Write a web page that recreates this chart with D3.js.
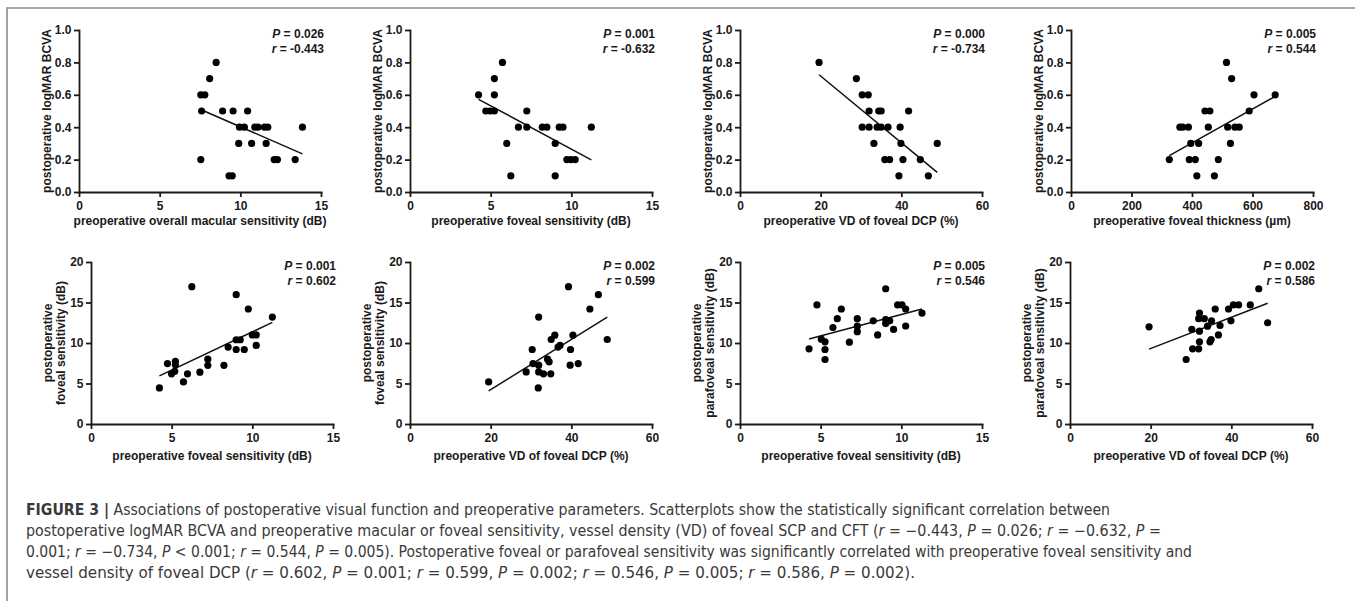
<!DOCTYPE html>
<html>
<head>
<meta charset="utf-8">
<script src="https://cdn.jsdelivr.net/npm/d3@7"></script>
<style>
  body { margin: 0; background: #fff; }
  svg { display: block; }
  .axis path, .axis line { stroke: #1a1a1a; stroke-width: 1.8px; }
  .axis text { font-family: "Liberation Sans", Arial, sans-serif; font-weight: bold; font-size: 12px; fill: #1a1a1a; }
  .lbl { font-family: "Liberation Sans", Arial, sans-serif; font-weight: bold; font-size: 12px; fill: #1a1a1a; }
  .cap { font-family: "Liberation Sans Narrow", "DejaVu Sans Condensed", "Liberation Sans", sans-serif; font-size: 15.5px; fill: #3a3a3a; }
</style>
</head>
<body>
<svg id="fig" width="1355" height="601"></svg>
<script>
// values, one pair of arrays per scatterplot
const p1X = [7.55, 7.8, 7.6, 7.55, 8.1, 8.5, 8.9, 9.55, 9.3, 9.5, 9.95, 10.25, 9.9, 10.45, 10.7, 10.9, 11.1, 11.5, 11.7, 11.6, 12.1, 12.3, 13.4, 13.85];
const p1Y = [0.6, 0.6, 0.5, 0.2, 0.7, 0.8, 0.5, 0.5, 0.1, 0.1, 0.4, 0.4, 0.3, 0.5, 0.3, 0.4, 0.4, 0.4, 0.4, 0.3, 0.2, 0.2, 0.2, 0.4];
const p2X = [4.25, 4.7, 4.97, 5.23, 5.23, 5.23, 5.73, 6.0, 6.25, 6.72, 7.24, 7.24, 8.2, 8.48, 9.0, 9.0, 9.25, 9.48, 9.72, 9.97, 10.24, 11.24];
const p2Y = [0.6, 0.5, 0.5, 0.5, 0.6, 0.7, 0.8, 0.3, 0.1, 0.4, 0.5, 0.4, 0.4, 0.4, 0.3, 0.1, 0.4, 0.4, 0.2, 0.2, 0.2, 0.4];
const p3X = [19.6, 28.85, 30.3, 31.8, 30.3, 32.0, 32.0, 33.2, 34.4, 35.0, 34.0, 35.0, 36.7, 35.9, 37.1, 39.7, 39.9, 39.4, 40.4, 41.8, 44.7, 46.7, 48.9];
const p3Y = [0.8, 0.7, 0.6, 0.6, 0.4, 0.4, 0.5, 0.3, 0.5, 0.5, 0.4, 0.4, 0.4, 0.2, 0.2, 0.4, 0.3, 0.1, 0.2, 0.5, 0.2, 0.1, 0.3];
const p4X = [325, 360, 369, 388, 396, 391, 411, 416, 422, 443, 459, 454, 474, 487, 514, 518, 527, 531, 542, 556, 589, 605, 675];
const p4Y = [0.2, 0.4, 0.4, 0.4, 0.3, 0.2, 0.2, 0.1, 0.3, 0.5, 0.5, 0.4, 0.1, 0.2, 0.8, 0.4, 0.3, 0.7, 0.4, 0.4, 0.5, 0.6, 0.6];
const p5X = [4.24, 4.74, 4.99, 5.23, 5.23, 5.19, 5.73, 5.98, 6.25, 6.75, 7.24, 7.24, 8.24, 8.5, 9.0, 9.0, 9.0, 9.25, 9.5, 9.75, 10.0, 10.24, 10.24, 11.24];
const p5Y = [4.45, 7.46, 6.2, 7.75, 7.3, 6.5, 5.2, 6.2, 16.95, 6.4, 8.0, 7.25, 7.25, 9.5, 15.96, 10.4, 9.2, 10.4, 9.2, 14.2, 11.0, 11.0, 9.7, 13.2];
const p6X = [19.5, 28.8, 30.3, 30.5, 31.9, 31.9, 31.9, 31.8, 33.1, 34.1, 34.5, 34.9, 35.0, 35.9, 36.7, 37.2, 39.3, 39.7, 39.8, 40.4, 41.7, 44.6, 46.7, 48.9];
const p6Y = [5.2, 6.43, 9.2, 7.46, 7.26, 13.2, 6.43, 4.45, 6.2, 8.0, 7.67, 6.2, 10.43, 10.97, 9.5, 9.7, 16.95, 7.26, 9.2, 10.97, 7.46, 14.2, 15.96, 10.43];
const p7X = [4.28, 4.77, 5.04, 5.27, 5.27, 5.27, 5.76, 6.03, 6.28, 6.78, 7.27, 7.27, 7.27, 8.26, 8.53, 9.03, 9.03, 9.03, 9.28, 9.52, 9.77, 10.04, 10.27, 10.27, 11.28];
const p7Y = [9.28, 14.7, 10.47, 10.14, 9.2, 7.96, 11.9, 13.0, 14.2, 10.1, 13.0, 12.08, 11.4, 12.74, 11.0, 16.7, 12.9, 12.4, 12.74, 11.67, 14.7, 14.7, 14.2, 12.1, 13.7];
const p8X = [19.6, 28.8, 30.2, 30.4, 31.9, 32.1, 31.9, 32.1, 32.1, 33.3, 34.1, 35.1, 34.7, 35.0, 36.0, 36.8, 37.2, 39.3, 39.9, 40.5, 41.8, 44.7, 46.8, 49.0];
const p8Y = [12.0, 7.96, 11.7, 9.28, 9.28, 13.7, 13.0, 11.46, 10.14, 13.0, 12.08, 12.74, 10.14, 10.43, 14.2, 11.0, 12.16, 14.2, 12.74, 14.7, 14.7, 14.7, 16.7, 12.5];

// regression line end points as drawn
const fitX = [[7.75, 13.85], [4.25, 11.24], [19.6, 48.9], [325, 675], [4.24, 11.24], [19.5, 48.9], [4.28, 11.28], [19.6, 49.0]];
const fitY = [[0.5, 0.235], [0.572, 0.198], [0.724, 0.121], [0.225, 0.59], [5.94, 12.54], [4.08, 13.2], [10.5, 14.2], [9.24, 14.9]];

const pValues = ["0.026", "0.001", "0.000", "0.005", "0.001", "0.002", "0.005", "0.002"];
const rValues = ["-0.443", "-0.632", "-0.734", "0.544", "0.602", "0.599", "0.546", "0.586"];

const xMaxes = [15, 15, 60, 800, 15, 60, 15, 60];
const xSteps = [5, 5, 20, 200, 5, 20, 5, 20];
const yMaxes = [1, 1, 1, 1, 20, 20, 20, 20];
const ySteps = [0.2, 0.2, 0.2, 0.2, 5, 5, 5, 5];

const xLabels = [
    "preoperative overall macular sensitivity (dB)",
    "preoperative foveal sensitivity (dB)",
    "preoperative VD of foveal DCP (%)",
    "preoperative foveal thickness (\u00b5m)",
    "preoperative foveal sensitivity (dB)",
    "preoperative VD of foveal DCP (%)",
    "preoperative foveal sensitivity (dB)",
    "preoperative VD of foveal DCP (%)"
];
const yLabels = [
    ["postoperative logMAR BCVA"],
    ["postoperative logMAR BCVA"],
    ["postoperative logMAR BCVA"],
    ["postoperative logMAR BCVA"],
    ["postoperative", "foveal sensitivity (dB)"],
    ["postoperative", "foveal sensitivity (dB)"],
    ["postoperative", "parafoveal sensitivity (dB)"],
    ["postoperative", "parafoveal sensitivity (dB)"]
];

const captionLines = [
    "FIGURE 3 | Associations of postoperative visual function and preoperative parameters. Scatterplots show the statistically significant correlation between",
    "postoperative logMAR BCVA and preoperative macular or foveal sensitivity, vessel density (VD) of foveal SCP and CFT (r = \u22120.443, P = 0.026; r = \u22120.632, P =",
    "0.001; r = \u22120.734, P < 0.001; r = 0.544, P = 0.005). Postoperative foveal or parafoveal sensitivity was significantly correlated with preoperative foveal sensitivity and",
    "vessel density of foveal DCP (r = 0.602, P = 0.001; r = 0.599, P = 0.002; r = 0.546, P = 0.005; r = 0.586, P = 0.002)."
];

// layout
const allX = [p1X, p2X, p3X, p4X, p5X, p6X, p7X, p8X];
const allY = [p1Y, p2Y, p3Y, p4Y, p5Y, p6Y, p7Y, p8Y];
const panelLeft = [79, 410, 740, 1071, 91, 410, 740, 1070];
const panelWidth = 242;
const rowTop = [30, 262];
const rowBottom = [192, 424];
const xLabelGap = [32.5, 35.5];
const captionEnds = [1110, 1161, 1192, 915];

const svg = d3.select("#fig");

// frame of the figure box
svg.append("path")
    .attr("d", "M7,601V8H1355")
    .attr("fill", "none")
    .attr("stroke", "#8a8a8a")
    .attr("stroke-width", 1.6);

allX.forEach((xs, i) => {
    const row = i < 4 ? 0 : 1;
    const left = panelLeft[i];
    const top = rowTop[row], bottom = rowBottom[row];

    const x = d3.scaleLinear().domain([0, xMaxes[i]]).range([left, left + panelWidth]);
    const y = d3.scaleLinear().domain([0, yMaxes[i]]).range([bottom, top]);

    const xTicks = d3.range(0, xMaxes[i] + xSteps[i] / 2, xSteps[i]);
    const yTicks = d3.range(0, yMaxes[i] + ySteps[i] / 2, ySteps[i]);

    const g = svg.append("g");

    g.append("g")
        .attr("class", "axis")
        .attr("transform", `translate(0,${bottom})`)
        .call(d3.axisBottom(x).tickValues(xTicks).tickSize(5).tickSizeOuter(0).tickPadding(4).tickFormat(d3.format("d")));

    g.append("g")
        .attr("class", "axis")
        .attr("transform", `translate(${left},0)`)
        .call(d3.axisLeft(y).tickValues(yTicks).tickSize(5).tickSizeOuter(0).tickPadding(2.5)
            .tickFormat(yMaxes[i] === 1 ? d3.format(".1f") : d3.format("d")));

    g.selectAll(".axis path").attr("stroke-linecap", "square");

    // regression line
    g.append("line")
        .attr("x1", x(fitX[i][0])).attr("y1", y(fitY[i][0]))
        .attr("x2", x(fitX[i][1])).attr("y2", y(fitY[i][1]))
        .attr("stroke", "#111")
        .attr("stroke-width", 1.5);

    g.append("g")
        .selectAll("circle")
        .data(xs.map((v, k) => [v, allY[i][k]]))
        .join("circle")
        .attr("cx", d => x(d[0]))
        .attr("cy", d => y(d[1]))
        .attr("r", 3.6)
        .attr("fill", "#000");

    // axis titles
    g.append("text")
        .attr("class", "lbl")
        .attr("x", left + panelWidth / 2)
        .attr("y", bottom + xLabelGap[row])
        .attr("text-anchor", "middle")
        .text(xLabels[i]);

    const yl = yLabels[i];
    const midY = (top + bottom) / 2;
    const offsets = yl.length === 1 ? [32.5] : [43.5, 30];
    yl.forEach((t, k) => {
        g.append("text")
            .attr("class", "lbl")
            .attr("transform", `translate(${left - offsets[k]},${midY}) rotate(-90)`)
            .attr("dy", "0.35em")
            .attr("text-anchor", "middle")
            .text(t);
    });

    // P and r values
    const statX = left + panelWidth + 3;
    const p = g.append("text").attr("class", "lbl")
        .attr("x", statX).attr("y", top + 7.5).attr("text-anchor", "end");
    p.append("tspan").attr("font-style", "italic").text("P");
    p.append("tspan").text(" = " + pValues[i]);
    const r = g.append("text").attr("class", "lbl")
        .attr("x", statX).attr("y", top + 22.5).attr("text-anchor", "end");
    r.append("tspan").attr("font-style", "italic").text("r");
    r.append("tspan").text(" = " + rValues[i]);
});

// caption
captionLines.forEach((line, i) => {
    const t = svg.append("text")
        .attr("class", "cap")
        .attr("x", 26)
        .attr("y", 515 + i * 21)
        .attr("textLength", captionEnds[i] - 26)
        .attr("lengthAdjust", "spacingAndGlyphs");
    let rest = line;
    if (rest.startsWith("FIGURE 3 |")) {
        t.append("tspan").attr("font-weight", "bold").text("FIGURE 3 |");
        rest = rest.slice("FIGURE 3 |".length);
    }
    const parts = rest.split(/(\b[rP]\b(?= [=<]))/);
    parts.forEach(s => {
        if (!s) return;
        const ts = t.append("tspan").text(s);
        if (s === "r" || s === "P") ts.attr("font-style", "italic");
    });
});
</script>
</body>
</html>
